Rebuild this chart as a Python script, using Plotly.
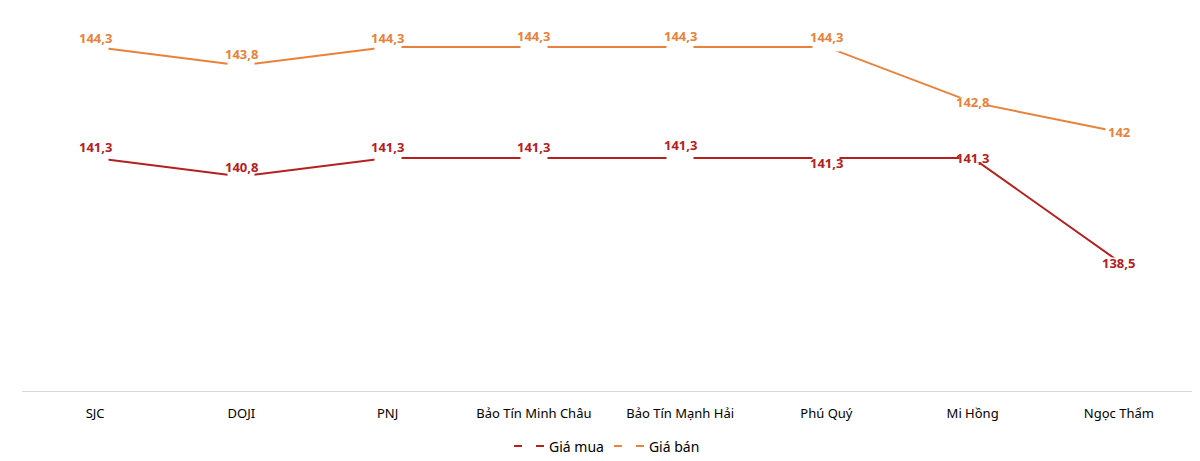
import plotly.graph_objects as go

# du lieu gia vang (trieu dong/luong)
brands = ["SJC", "DOJI", "PNJ", "Bảo Tín Minh Châu", "Bảo Tín Mạnh Hải",
          "Phú Quý", "Mi Hồng", "Ngọc Thẩm"]
gia_mua = [141.3, 140.8, 141.3, 141.3, 141.3, 141.3, 141.3, 138.5]
gia_ban = [144.3, 143.8, 144.3, 144.3, 144.3, 144.3, 142.8, 142.0]

RED = "#B4201E"
ORANGE = "#E8823A"

# vertical label offsets (px) per point, like the hand-placed excel labels
shift_mua = [11, 9, 11, 11, 13, -5, 0, -1]
shift_ban = [9, 11, 9, 11, 11, 10, 0, 0]


def fmt(v):
    s = ("%.1f" % v).rstrip("0").rstrip(".")
    return s.replace(".", ",")


fig = go.Figure()
fig.add_trace(go.Scatter(x=brands, y=gia_mua, mode="lines", name="Giá mua",
                         line=dict(color=RED, width=2), showlegend=False))
fig.add_trace(go.Scatter(x=brands, y=gia_ban, mode="lines", name="Giá bán",
                         line=dict(color=ORANGE, width=2), showlegend=False))

# legend entries (excel draws the sample broken by the label gap)
fig.add_trace(go.Scatter(x=[None], y=[None], mode="lines", name="Giá mua",
                         line=dict(color=RED, width=2, dash="8px,14px")))
fig.add_trace(go.Scatter(x=[None], y=[None], mode="lines", name="Giá bán",
                         line=dict(color=ORANGE, width=2, dash="8px,14px")))

for vals, shifts, col in [(gia_mua, shift_mua, RED), (gia_ban, shift_ban, ORANGE)]:
    for b, v, s in zip(brands, vals, shifts):
        # white gap where the data label sits
        fig.add_annotation(x=b, y=v, text=" ", showarrow=False, width=26, height=8,
                           bgcolor="white", borderpad=0)
        fig.add_annotation(x=b, y=v, text="<b>%s</b>" % fmt(v), showarrow=False,
                           yshift=s, font=dict(family="Noto Sans", size=13, color=col))

# page has an 8px body margin, so margins are offset to line up with the reference
fig.update_layout(
    width=1200, height=461,
    margin=dict(l=14, r=16, t=13, b=78, autoexpand=False),
    plot_bgcolor="white", paper_bgcolor="white",
    font=dict(family="Noto Sans", size=13, color="#000000"),
    legend=dict(orientation="h", x=0.5, xanchor="center", y=-0.15, yanchor="middle",
                font=dict(size=14), itemwidth=30, tracegroupgap=0),
)
fig.update_xaxes(range=[-0.5, 7.5], showline=True, linecolor="#D9D9D9", linewidth=1,
                 showgrid=False, ticks="", ticklabelstandoff=10, tickfont=dict(size=13),
                 automargin=False)
fig.update_yaxes(range=[135, 145], visible=False, showgrid=False, zeroline=False,
                 automargin=False)

fig.write_html("out.html")
